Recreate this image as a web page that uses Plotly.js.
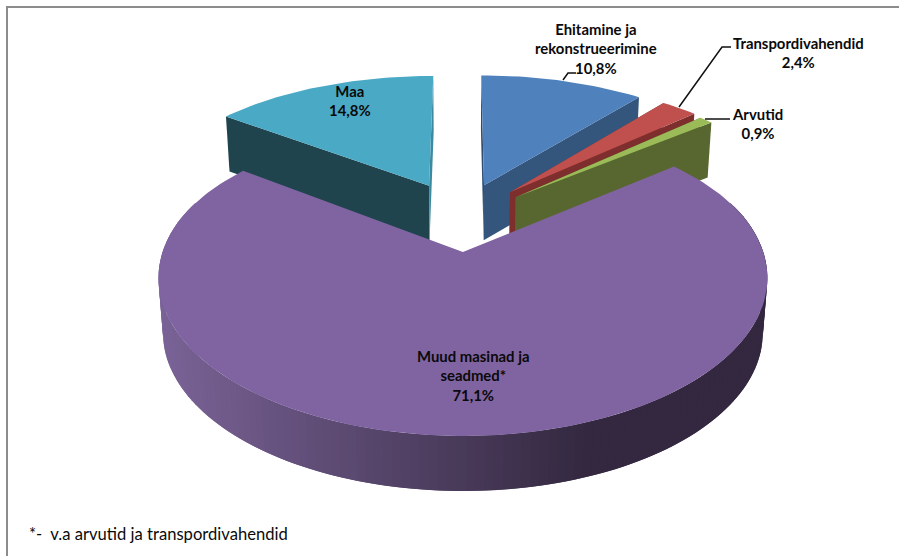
<!DOCTYPE html>
<html><head><meta charset="utf-8">
<script src="https://cdn.plot.ly/plotly-3.0.1.min.js"></script>
<style>html,body{margin:0;padding:0;background:#fff}#c{width:899px;height:556px}</style>
</head><body><div id="c"></div>
<script>
// ---- data ----
const categories = ["Ehitamine ja<br>rekonstrueerimine","Transpordivahendid","Arvutid","Muud masinad ja<br>seadmed*","Maa"];
const shares = [10.8, 2.4, 0.9, 71.1, 14.8];
const footnote = "*-\u00a0\u00a0v.a arvutid ja transpordivahendid";

// ---- styles ----
const topColors  = ["#4f81bd","#c0504d","#9bbb59","#8064a2","#4aa9c4"];
const startWallColors = ["#2f4d72","#7e2f2d","#57672f","#33283f","#1f444e"];
const endWallColors   = ["#34557c","#7e2f2d","#57672f","#33283f","#3c8aa0"];
const wallLight = [122,99,151], wallDark = [51,40,63];

// ---- 3D projection of the pie plane, in screen units ----
const cx = 462, vanishY = -680, w0 = 1/900, slopeFar = 0.000168, slopeNear = 0.000177, radiusX = 290;
const depth = 55, converge = 0.985;
// explosion of each slice in the plane of the pie, in radii
const explodeX = [0.079, 0.171, 0.19, 0.003, -0.118];
const explodeZ = [0.266, 0.211, 0.172, -0.215, 0.261];

function project(X, Z){
  const d = 1/(w0 + (Z<0 ? slopeNear : slopeFar)*Z);
  return [cx + radiusX*X*d*w0, vanishY + d];
}
function lower(p){ return [cx + (p[0]-cx)*converge, p[1]+depth]; }
function polar(i, deg){
  const a = deg*Math.PI/180;
  return project(explodeX[i]+Math.sin(a), explodeZ[i]+Math.cos(a));
}
function poly(pts, fill){
  return {type:"scatter", mode:"lines", x:pts.map(p=>p[0]), y:pts.map(p=>p[1]),
    fill:"toself", fillcolor:fill, line:{color:fill, width:0},
    hoverinfo:"skip", showlegend:false};
}

const total = shares.reduce((a,b)=>a+b,0);
let cum = 0;
const spans = shares.map(v=>{const s=cum; cum+=v; return [s/total*360, cum/total*360];});

const traces = [];
function addSlice(i){
  const [a0,a1] = spans[i];
  const apex = project(explodeX[i], explodeZ[i]);
  const t0 = polar(i,a0), t1 = polar(i,a1);
  if(i===3){
    // outer wall with a horizontal shading gradient; strips overlap to hide seams
    const step=1.5;
    for(let d=70; d<290; d+=step){
      const p=polar(i,d), q=polar(i,Math.min(d+step,290)), r=polar(i,Math.min(d+2*step,290));
      const mx=(p[0]+q[0])/2;
      const t=Math.max(0,Math.min(1,(mx-158)/(590-158)));
      const c=wallLight.map((l,k)=>Math.round(l+(wallDark[k]-l)*t));
      const col=`rgb(${c.join(",")})`;
      traces.push(poly([p,q,r,lower(r),lower(q),lower(p),p],col));
    }
  } else {
    traces.push(poly([apex,t0,lower(t0),lower(apex),apex],startWallColors[i]));
    traces.push(poly([apex,t1,lower(t1),lower(apex),apex],endWallColors[i]));
  }
  const top=[apex];
  const n=Math.max(3,Math.ceil((a1-a0)/1.5));
  for(let k=0;k<=n;k++) top.push(polar(i,a0+(a1-a0)*k/n));
  top.push(apex);
  traces.push(poly(top,topColors[i]));
}
[4,0,1,2,3].forEach(addSlice);

const pct = v => v.toFixed(1).replace(".",",")+"%";
const font = {family:"Lato, Carlito, sans-serif", size:14.9, color:"#0a0a0a"};
function lab(i,x,y){
  return {x:x,y:y,xref:"x",yref:"y",text:"<b>"+categories[i]+"<br>"+pct(shares[i])+"</b>",
    showarrow:false,align:"center",xanchor:"center",yanchor:"middle",font:font};
}
const annotations=[
  lab(0,596,48), lab(1,798,52.5), lab(2,757,123.5), lab(3,473,375), lab(4,350,100.5),
  {x:27,y:534,xref:"x",yref:"y",text:footnote,showarrow:false,xanchor:"left",yanchor:"middle",
   font:{family:"Lato, Carlito, sans-serif",size:16.6,color:"#0a0a0a"}}
];
const leader=(d)=>({type:"path",xref:"x",yref:"y",path:d,line:{color:"#111",width:1.5}});
const border=(d)=>({type:"path",xref:"x",yref:"y",path:d,line:{color:"#8c8c8c",width:2}});
const shapes=[
  border("M 7 556 L 7 7 L 899 7"),
  leader("M 563 80 L 568 73 L 576 73"),
  leader("M 679 107 L 722 47 L 731 47"),
  leader("M 705 119 L 730 119")
];
Plotly.newPlot("c",traces,{
  width:899,height:556,margin:{l:0,r:0,t:0,b:0,pad:0},
  paper_bgcolor:"#fff",plot_bgcolor:"#fff",showlegend:false,
  xaxis:{range:[0,899],visible:false,fixedrange:true},
  yaxis:{range:[556,0],visible:false,fixedrange:true},
  annotations:annotations,shapes:shapes
},{displayModeBar:false,staticPlot:true});
</script></body></html>
